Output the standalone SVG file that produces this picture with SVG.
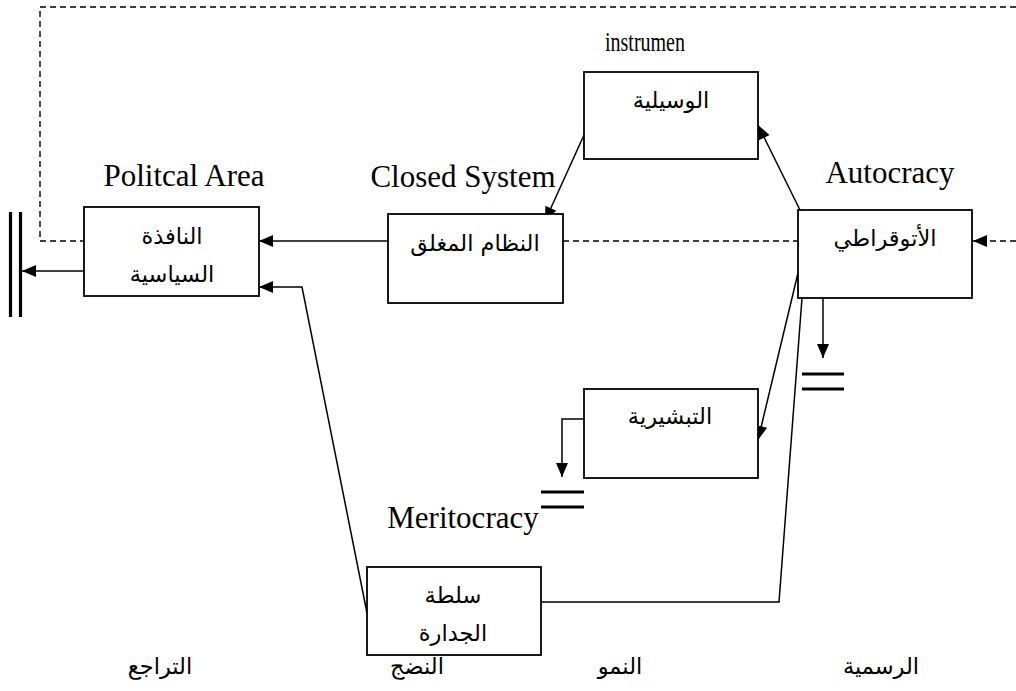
<svg xmlns="http://www.w3.org/2000/svg" width="1016" height="691" viewBox="0 0 1016 691">
  <style>
    .box { fill: #fff; stroke: #000; stroke-width: 1.8; }
    .ln { fill: none; stroke: #000; stroke-width: 1.5; }
    .dash { fill: none; stroke: #000; stroke-width: 1.4; stroke-dasharray: 6 4; }
    .bar { stroke: #000; stroke-width: 3.2; }
    .en { font-family: "Liberation Serif", "Times New Roman", serif; font-size: 31px; fill: #000; text-anchor: middle; }
    .ar { font-family: "DejaVu Sans", "Noto Sans", sans-serif; font-size: 22.5px; fill: #000; text-anchor: middle; direction: rtl; }
  </style>
  <defs>
    <marker id="arrow" markerUnits="userSpaceOnUse" markerWidth="16" markerHeight="14" viewBox="0 0 16 14" refX="15" refY="7" orient="auto">
      <path d="M1,1 L15,7 L1,13 z" fill="#000"/>
    </marker>
  </defs>
  <rect width="1016" height="691" fill="#fff"/>

  <!-- connectors -->
  <g id="connectors">
    <polyline class="dash" points="1016,7 40,7 40,241 84,241"/>
    <line class="dash" x1="563" y1="241" x2="798" y2="241"/>
    <line class="dash" x1="1016" y1="241" x2="973" y2="241" marker-end="url(#arrow)"/>
    <line class="ln" x1="388" y1="241" x2="259" y2="241" marker-end="url(#arrow)"/>
    <polyline class="ln" points="367,613 302,287 259,287" marker-end="url(#arrow)"/>
    <line class="ln" x1="84" y1="271" x2="22" y2="271" marker-end="url(#arrow)"/>
    <line class="bar" x1="10.5" y1="212" x2="10.5" y2="317"/>
    <line class="bar" x1="20.5" y1="212" x2="20.5" y2="317"/>
    <line class="ln" x1="584" y1="135" x2="545" y2="221" marker-end="url(#arrow)"/>
    <line class="ln" x1="800" y1="210" x2="758" y2="125" marker-end="url(#arrow)"/>
    <line class="ln" x1="798" y1="273" x2="758" y2="440" marker-end="url(#arrow)"/>
    <polyline class="ln" points="802,298 779,602 541,602"/>
    <line class="ln" x1="823" y1="298" x2="823" y2="358" marker-end="url(#arrow)"/>
    <line class="bar" x1="802" y1="374" x2="844" y2="374"/>
    <line class="bar" x1="802" y1="389" x2="844" y2="389"/>
    <polyline class="ln" points="584,419 562,419 562,477" marker-end="url(#arrow)"/>
    <line class="bar" x1="541" y1="492" x2="584" y2="492"/>
    <line class="bar" x1="541" y1="507" x2="584" y2="507"/>
  </g>

  <!-- nodes -->
  <g id="political-window">
    <rect class="box" x="84" y="207" width="175" height="89"/>
    <text class="ar" x="172" y="244">النافذة</text>
    <text class="ar" x="172" y="282">السياسية</text>
    <text class="en" x="184" y="186">Politcal Area</text>
  </g>
  <g id="closed-system">
    <rect class="box" x="388" y="214" width="175" height="89"/>
    <text class="ar" x="475" y="251">النظام المغلق</text>
    <text class="en" x="463" y="187">Closed System</text>
  </g>
  <g id="instrumental">
    <rect class="box" x="584" y="72" width="174" height="87"/>
    <text class="ar" x="671" y="108">الوسيلية</text>
    <text class="en" x="645" y="51" style="font-size:27px" textLength="80" lengthAdjust="spacingAndGlyphs">instrumen</text>
  </g>
  <g id="autocracy">
    <rect class="box" x="798" y="210" width="174" height="88"/>
    <text class="ar" x="885" y="246">الأتوقراطي</text>
    <text class="en" x="890" y="183">Autocracy</text>
  </g>
  <g id="missionary">
    <rect class="box" x="584" y="389" width="174" height="89"/>
    <text class="ar" x="670" y="424">التبشيرية</text>
  </g>
  <g id="meritocracy">
    <rect class="box" x="367" y="567" width="174" height="88"/>
    <text class="ar" x="453" y="603">سلطة</text>
    <text class="ar" x="453" y="641">الجدارة</text>
    <text class="en" x="463" y="528">Meritocracy</text>
  </g>

  <!-- stage labels -->
  <g id="stages">
    <text class="ar" x="160" y="674">التراجع</text>
    <text class="ar" x="417" y="674">النضج</text>
    <text class="ar" x="620" y="674">النمو</text>
    <text class="ar" x="881" y="674">الرسمية</text>
  </g>
</svg>
